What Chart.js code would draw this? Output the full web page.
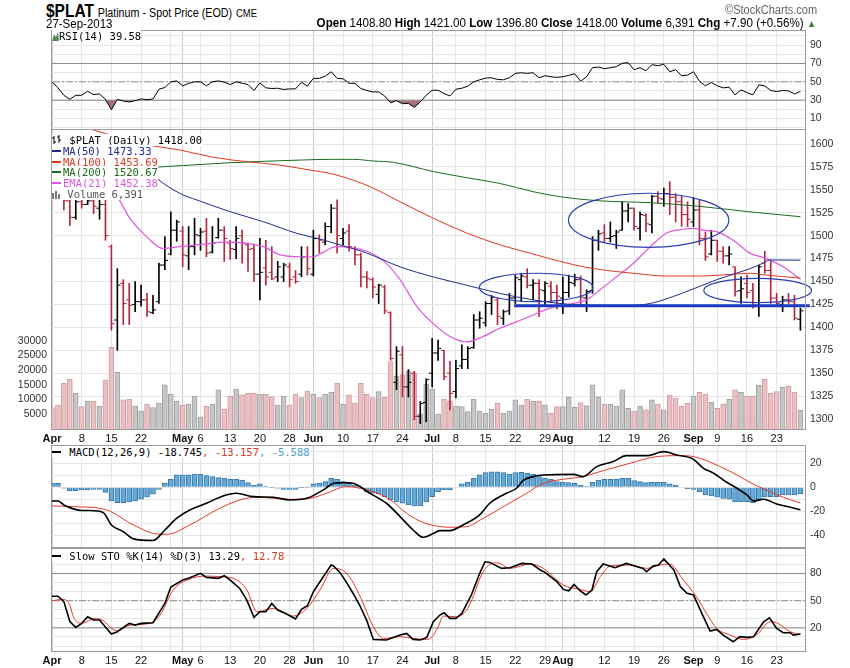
<!DOCTYPE html>
<html>
<head>
<meta charset="utf-8">
<script src="https://cdn.jsdelivr.net/npm/chart.js@4.4.0/dist/chart.umd.min.js"></script>
<style>
body { margin: 0; background: #fff; }
#wrap { position: relative; width: 850px; height: 668px; overflow: hidden; font-family: "Liberation Sans", Arial, sans-serif; color: #000; }
canvas { position: absolute; left: 0; }
.hdr { position: absolute; white-space: nowrap; }
.leg { position: absolute; font-family: "DejaVu Sans Mono", monospace; font-size: 10.5px; line-height: 10.8px; white-space: nowrap; }
.leg div span.t { background: #fff; }
.sw { display: inline-block; width: 9px; height: 2px; vertical-align: middle; margin-right: 2px; position: relative; top: -1px; }
</style>
</head>
<body>
<div id="wrap">
  <canvas id="rsi" width="850" height="101" style="top:29px"></canvas>
  <canvas id="price" width="850" height="317" style="top:129px"></canvas>
  <canvas id="macd" width="850" height="103" style="top:445px"></canvas>
  <canvas id="sto" width="850" height="120" style="top:548px"></canvas>

  <div class="hdr" style="left:46px;top:1px;transform:scaleX(0.86);transform-origin:0 0;">
    <b style="font-size:18px">$PLAT</b> <span style="font-size:12.5px">Platinum - Spot Price (EOD)</span> <span style="font-size:11px">CME</span>
  </div>
  <div class="hdr" style="left:46px;top:17px;font-size:12.5px;transform:scaleX(0.92);transform-origin:0 0;">27-Sep-2013</div>
  <div class="hdr" style="right:34px;top:16px;font-size:12.5px;transform:scaleX(0.93);transform-origin:100% 0;">
    <b>Open</b> 1408.80 <b>High</b> 1421.00 <b>Low</b> 1396.80 <b>Close</b> 1418.00 <b>Volume</b> 6,391 <b>Chg</b> +7.90 (+0.56%) <span style="color:#2a8a2a;font-size:10px">&#9650;</span>
  </div>
  <div class="hdr" style="right:33px;top:3px;font-size:12px;color:#666;transform:scaleX(0.92);transform-origin:100% 0;">&copy;StockCharts.com</div>

  <div class="leg" style="left:52px;top:31px;">
    <div><span class="t"><svg width="7" height="9" style="vertical-align:-1px"><polygon points="0,9 2,2 4,5 6,0 7,9" fill="#5a8a5a"/></svg>RSI(14) 39.58</span></div>
  </div>

  <div class="leg" style="left:52px;top:135px;">
    <div><span class="t"><svg width="11" height="10" style="vertical-align:-1px"><path d="M2 1V9M0 3H2M2 7H4M7 0V8M5 2H7M7 5H9" stroke="#000" fill="none"/></svg> $PLAT (Daily) 1418.00</span></div>
    <div style="color:#1f2a8a"><span class="t"><span class="sw" style="background:#1f2a8a"></span>MA(50) 1473.33</span></div>
    <div style="color:#dd3a22"><span class="t"><span class="sw" style="background:#dd3a22"></span>MA(100) 1453.69</span></div>
    <div style="color:#1b6b1b"><span class="t"><span class="sw" style="background:#1b6b1b"></span>MA(200) 1520.67</span></div>
    <div style="color:#e055e0"><span class="t"><span class="sw" style="background:#e055e0"></span>EMA(21) 1452.38</span></div>
    <div style="color:#555"><span class="t"><svg width="9" height="9" style="vertical-align:-1px"><path d="M0 3h2v6H0zM3 1h2v8H3zM6 4h2v5H6z" fill="#777"/></svg> Volume 6,391</span></div>
  </div>

  <div class="leg" style="left:52px;top:447px;">
    <div><span class="t"><span class="sw" style="background:#000"></span> MACD(12,26,9) -18.745<span style="color:#d83a24">, -13.157</span><span style="color:#4d9ad0">, -5.588</span></span></div>
  </div>
  <div class="leg" style="left:52px;top:551px;">
    <div><span class="t"><span class="sw" style="background:#000"></span> Slow STO %K(14) %D(3) 13.29<span style="color:#d83a24">, 12.78</span></span></div>
  </div>
</div>

<script>
// trading days Apr 1 - Sep 27 2013, index 0..126
const tickPos  = [0, 5, 10, 15, 20, 22, 25, 30, 35, 40, 44, 49, 54, 59, 64, 68, 73, 78, 83, 86, 88, 93, 98, 103, 108, 112, 117, 122];
const tickText = ['Apr', '8', '15', '22', '', 'May', '6', '13', '20', '28', 'Jun', '10', '17', '24', 'Jul', '8', '15', '22', '29', 'Aug', '', '12', '19', '26', 'Sep', '9', '16', '23'];
const monthPos = [0, 22, 44, 64, 86, 108];

const opens = [1578,1572,1565,1538,1520,1537,1534,1538,1530,1534, 1488,1408,1448,1430,1425,1428,1430,1416,1428,1468,
  1480,1506,1505,1478,1488,1500,1505,1482,1498,1506, 1492,1485,1500,1490,1486,1458,1465,1460,1455,1455,
  1466,1455,1458,1477,1458,1497,1493,1510,1530,1497, 1505,1486,1479,1455,1452,1436,1444,1416,1340,1370,
  1335,1350,1303,1318,1350,1372,1375,1350,1330,1358, 1365,1378,1408,1405,1426,1430,1410,1418,1432,1452,
  1455,1446,1448,1440,1445,1438,1432,1438,1448,1452, 1432,1440,1495,1503,1497,1500,1506,1527,1530,1508,
  1522,1512,1543,1540,1546,1542,1537,1523,1515,1528, 1497,1480,1495,1483,1478,1466,1440,1448,1440,1424,
  1470,1462,1432,1425,1430,1428,1408.8];
const highs = [1583,1576,1568,1545,1546,1545,1545,1548,1545,1542, 1490,1464,1452,1448,1450,1446,1437,1435,1470,1499,
  1526,1517,1510,1510,1519,1508,1519,1510,1519,1510, 1495,1510,1506,1492,1490,1497,1495,1488,1472,1470,
  1470,1462,1488,1488,1506,1501,1514,1534,1539,1508, 1512,1488,1481,1461,1454,1447,1446,1417,1379,1379,
  1354,1352,1319,1344,1388,1386,1375,1363,1364,1381, 1379,1414,1417,1428,1435,1432,1419,1437,1457,1459,
  1464,1452,1452,1450,1450,1446,1455,1457,1458,1456, 1441,1499,1506,1512,1515,1506,1537,1535,1530,1526,
  1524,1544,1548,1552,1559,1546,1543,1537,1541,1539, 1504,1506,1495,1488,1488,1466,1455,1457,1448,1468,
  1483,1472,1437,1434,1437,1435,1421];
const lows = [1566,1558,1528,1511,1518,1530,1534,1524,1518,1495, 1397,1375,1403,1403,1417,1423,1412,1415,1426,1463,
  1479,1494,1466,1463,1479,1484,1477,1481,1497,1472, 1474,1475,1470,1461,1450,1430,1446,1452,1450,1450,
  1444,1448,1455,1457,1456,1481,1490,1503,1481,1490, 1483,1468,1444,1443,1432,1426,1415,1364,1332,1324,
  1324,1299,1295,1297,1335,1364,1343,1310,1323,1355, 1355,1377,1399,1401,1414,1403,1403,1414,1426,1428,
  1443,1430,1412,1423,1428,1420,1415,1433,1445,1425, 1417,1437,1484,1493,1493,1486,1506,1515,1506,1495,
  1504,1503,1535,1532,1523,1515,1510,1510,1510,1490, 1473,1479,1472,1470,1468,1434,1426,1432,1421,1412,
  1459,1426,1423,1417,1426,1408,1396.8];
const closes = [1572,1566,1538,1520,1537,1534,1538,1532,1534,1500, 1404,1446,1426,1424,1428,1430,1417,1419,1468,1473,
  1506,1515,1479,1488,1501,1504,1481,1492,1506,1497, 1486,1497,1492,1485,1458,1460,1455,1453,1466,1468,
  1452,1450,1477,1464,1497,1495,1510,1530,1500,1503, 1488,1479,1455,1453,1444,1446,1418,1366,1374,1335,
  1340,1303,1317,1343,1372,1377,1346,1328,1355,1365, 1377,1408,1410,1426,1433,1412,1417,1432,1454,1456,
  1446,1448,1441,1448,1438,1434,1438,1449,1452,1433, 1439,1495,1502,1497,1499,1504,1527,1530,1510,1523,
  1513,1543,1541,1546,1542,1537,1523,1518,1528,1497, 1477,1495,1483,1478,1480,1439,1442,1438,1424,1466,
  1462,1432,1426,1430,1428,1410,1418];
const volumes = [7260,8160,15500,16900,12100,7600,9500,9500,7800,16700, 27800,19300,9900,10200,7800,6100,8500,7260,8850,15000,
  11900,9500,8160,8500,11200,4100,7800,8500,13300,6800, 11200,13600,11600,12100,12100,11900,11900,11000,8160,11200,
  8160,11800,10700,12900,11800,10700,11800,12600,15500,8400, 11600,8850,15500,11800,10700,12700,10800,22900,18000,18400,
  19700,18900,5100,15300,13600,5100,10200,9600,7800,7600, 5900,10200,6100,5300,6800,8700,5300,6100,9900,8160,
  10200,9500,9500,8160,5300,7600,7600,10800,7400,9000, 8000,15000,10900,8500,8500,7800,13300,7000,6100,7800,
  6500,9900,8500,6500,11500,10500,7800,8700,11200,12500, 11900,9100,7000,8500,10100,13300,12500,11200,11200,14900,
  16900,12100,12700,14200,14500,12500,6391];

// overlays, read at [dayIndex, value]
const ma50 = [[0,1606],[7,1597],[14.3,1582.5],[17.6,1562.6],[21.5,1546.2],[24.4,1538.9],[30,1526.2],[35.6,1515.2],[41.2,1502.6],
  [45.7,1495.3],[47.4,1492],[53,1481],[58.6,1466],[64.2,1455],[69.8,1446],[75.4,1437],[81,1430],[85.5,1426],[92.3,1424],[97,1424],[100.7,1426],
  [106,1437],[111.9,1452],[117.5,1464],[119.7,1470],[120.8,1473.5],[126,1473.3]];
const ma100 = [[0,1627],[5,1619],[9,1611.5],[13,1604.5],[17,1598],[21.5,1593.5],[27.2,1585.5],[32.8,1580.7],[38.4,1577],[44,1571],[46.8,1568],
  [53,1555],[58.6,1537],[64.2,1519],[69.8,1503],[75.4,1490],[81,1480],[85.5,1472],[89.5,1466],[92.3,1463],[97.9,1459],[103.5,1456],[109,1456],
  [114.7,1458],[117.5,1459],[120.3,1457],[126,1453.7]];
const ma200 = [[0,1570],[7,1571.5],[14.3,1573.5],[30,1579.6],[41.8,1582.5],[46.8,1583.3],[50.7,1583.3],[54.1,1581.5],[57.5,1580],[64.2,1570],
  [69.8,1563.3],[75.4,1557],[81,1548],[85.5,1542.6],[92.3,1538],[100.7,1536],[109,1532],[117.5,1526],[126,1520.7]];
const ema21 = [[0,1566],[3,1560],[6,1555],[9,1550],[10.3,1548],[13.1,1519],[15.9,1499],[18.7,1486],[21.5,1488],[26,1491],[28.8,1493],
  [32.8,1491.7],[35.6,1488],[38.4,1479],[41.8,1477],[44,1477],[45.1,1480],[47.9,1488],[50.2,1487],[53,1483],[55.9,1472],[58.6,1452],[61.4,1423],
  [64.2,1404],[67,1390],[69.8,1384],[72.6,1390],[75.4,1399],[78.2,1406],[81,1413.5],[83.8,1421],[87.2,1425.5],[90,1430],[92.3,1441],[95,1455],
  [97.9,1470],[100.7,1488],[103.5,1503],[106.3,1507],[108,1508],[110.2,1505.5],[111.9,1504.5],[114.7,1495],[117.5,1481],[120.3,1475],
  [123.1,1466],[126,1452.4]];

const rsiVals = [50,43.4,35.3,30.9,35.3,35.3,39.7,36,36.8,30.9, 19.5,30.9,29,28,29.4,31.3,30.5,31.3,41.9,43.8,
  50,51,45.6,48.2,50,50,45.6,50,51,49.6, 47,50,48.5,47,40.5,48.9,43.4,42.7,43,41.6,
  42.3,42.3,49.6,45.2,53.7,53.7,56.2,61,53.7,53.3, 48.5,48.2,42.7,40.5,39,39,34.6,27.2,29.4,26.1,
  26.5,22.1,28,35.3,40.8,40.8,37.2,34.6,41.9,43, 45.2,50,52.2,54,54.4,52.6,52.2,54.4,59.2,59.9,
  59.2,59.9,54.4,56.6,55.5,54.8,55.5,57,58.8,50.7, 55.5,65.4,66.1,64.3,65.4,66.5,70.2,70.9,63.2,65.4,
  62.1,68.7,67.6,69.1,61,63.2,56.6,57.3,61,50.7, 45.6,49.3,45.6,43.4,44.1,35.7,41.2,38.3,35.7,46.7,
  45.6,40.5,39.4,40.5,40.1,36.8,39.58];

const macdLine = [[0,-11.5],[1,-11.4],[2,-14.7],[3.6,-18],[5,-19.4],[6.4,-19.4],[8.6,-21],[10,-31.4],[12,-37],[13.7,-43],[17,-44.4],[19,-35.6],
  [21,-25.8],[23.2,-18.9],[26,-13.3],[28.8,-7.2],[31,-5],[33.9,-7.8],[37.3,-8.3],[40,-10.6],[42.9,-9.2],[45.7,-2.2],[47.4,3.3],[49,3.9],
  [50.7,3.3],[53.5,-5],[56.3,-13.3],[58.6,-24.4],[60.8,-35.6],[62.5,-41.7],[64.2,-38.5],[65.3,-36.1],[67,-36.1],[69.2,-31.4],[72,-23],
  [73.7,-13.3],[76.5,-5],[78.2,-0.8],[79.3,5.6],[81,8.9],[82.7,10.3],[87.8,10.8],[89.4,8.9],[91.7,17.2],[94.5,21.4],[96.7,26.4],[100.1,26.4],
  [103,29.7],[105.2,26.9],[108,23.3],[109.7,15.8],[111.4,11.7],[113,6.1],[115.3,-0.8],[117,-6.4],[118.1,-11.4],[119.8,-10],[122,-13.9],
  [124.3,-16.7],[126,-18.745]];
const macdSignal = [[0,-15.6],[3.6,-16.1],[9.2,-18.9],[13.7,-31.4],[17.6,-38.9],[19.3,-39.2],[23.2,-31.4],[27.7,-18.9],[31.6,-10.6],[34.5,-8.3],
  [40,-10],[43.4,-9.2],[46.2,-5],[49.6,0.6],[51.9,-0.8],[54.1,-3.6],[57,-10.6],[59.7,-21.7],[62.5,-29.4],[64.2,-31.8],[67,-33.3],[69.8,-32.8],
  [72.6,-25.8],[76.5,-14.7],[79.9,-5],[82.7,3.3],[86.1,6.7],[89.4,8.9],[92.8,13.9],[97.3,20],[101.8,25.6],[106.3,26.4],[108.5,25],[111.9,18.6],
  [115.3,10.3],[118.1,2.5],[120.9,-3.6],[123.1,-8.3],[126,-13.157]];
const macdHist = [3.3,3.3,-0.8,-2.8,-2.8,-2.2,-2.2,-1.7,-1.7,-4.2, -11.4,-12.8,-12.8,-12.2,-11.4,-10,-8.3,-5.8,-1.7,3.3,
  6.7,10.3,10.3,10.3,11.1,10.8,9.7,8.9,8.1,7.5, 6.7,6.7,6.1,3.9,1.7,2.8,0.6,-0.3,-0.8,-1.7,
  -1.7,-1.7,-0.2,0.2,2.8,3.3,4.7,7.5,6.7,4.7, 3.9,1.9,-0.8,-3.6,-5,-5.6,-7.8,-10.6,-12.2,-13.3,
  -14.7,-15.6,-15.6,-12.2,-7.8,-3.6,-2.2,-2.2,0,2.8, 4.2,7.5,10.3,12.2,12.8,12.8,12.2,11.1,12.2,12.5,
  11.7,10.8,8.9,7.5,6.7,4.7,4.2,3.9,3.3,1.9, 0.6,4.2,6.1,6.7,6.7,6.7,7.5,7.5,5.6,4.7,
  3.9,4.2,4.2,4.2,2.8,1.9,0,-1.1,-1.7,-3.6, -6.4,-7.2,-8.3,-9.2,-10,-11.9,-11.9,-11.9,-12.8,-10.6,
  -8.3,-7.8,-7.8,-6.4,-6.4,-6.4,-5.588];

const stoK = [[0,55],[1,55],[2,49],[3,27],[4,20.6],[5,25],[6,32.3],[7,28.7],[8,28.7],[10,13.2],[11,15.8],[13,25],[14,23.1],[15,25],[17,25.7],
  [19,47],[20,65],[22,72.8],[23,74.7],[25,80.2],[26,75.8],[28,74.7],[29,77.6],[30,72.8],[31.6,63.6],[32.8,50.7],[34,31.6],[35,37.9],[36,37.9],
  [37,47],[38,39.7],[39.5,35.3],[41,29.8],[42,40.4],[43,44.5],[44,59.9],[45,69.9],[47,89.4],[47.4,88.3],[48.5,81],[49.6,70],[50.7,58],
  [51.8,45],[53,28],[54.1,7.3],[56.3,6.6],[58.6,12.1],[59.7,13.9],[60.8,7.3],[62,6.6],[63.1,9.5],[64.2,26.8],[65.3,34.2],[66,36.7],[67,30.5],
  [68,30.5],[69,36],[70.6,56.3],[72,80.2],[72.9,93],[73.7,92.3],[75.7,85.7],[77.1,86.4],[79.1,91.2],[80.8,90.5],[82.2,83.9],[83,81.3],
  [85,71],[86.1,62.5],[87,61],[87.9,68],[88.9,61],[89.9,56.3],[90.9,61.8],[91.7,82],[92.8,90.5],[94.8,86.4],[96.7,91.2],[99.5,85.7],
  [100.1,82],[101.2,88.3],[102.1,89.4],[103,96],[104.7,83.9],[105.8,65.5],[106.9,58.1],[108,56.3],[109.4,36],[110.8,16.5],[111.9,18.3],
  [113,12.1],[114.7,4.7],[115.8,10.3],[116.9,9.5],[118.1,10.3],[119.8,26.8],[120.8,31.2],[122,19.5],[123.1,14.7],[124.3,14.7],
  [124.8,12.1],[126,13.29]];
const stoD = [[0,50],[2,51.5],[3,45],[3.6,32.3],[5,25],[7.2,30.5],[8.4,28.7],[10.9,16.9],[13.1,23.1],[16.5,25],[18.2,34.2],[20.4,61.8],
  [22.7,72.8],[26,77.2],[28.3,76.5],[30.5,74.7],[32.8,61.8],[34.5,37.9],[37.3,41.5],[40.6,33.1],[42.9,41.5],[45.1,61.8],[47.4,85.7],
  [49.6,80.2],[51.9,54.4],[54.1,21.3],[55.8,8.4],[58.6,10.3],[60.8,8.4],[63.1,7.3],[64,10.3],[65,21],[65.9,33.1],[68.1,32.3],[69.8,39.7],
  [71,56],[72,74],[73,86],[74.9,92],[77.1,85.7],[80.5,90.5],[82.7,85.7],[86.1,67.3],[88.9,62.5],[90.6,60],[92.3,76.5],[94,88.3],
  [97.3,89.4],[100.1,85.7],[102.4,89.4],[104,90.5],[106.3,72.8],[108.5,54.4],[110.2,36],[111.9,19.5],[114.2,12.1],[116.4,7.3],
  [118.6,12.1],[120.9,26.8],[122,25.7],[124.3,15.8],[126,12.78]];

// hand-drawn annotations on the price panel
const ellipses = [
  { i: 81.5, p: 1443.5, di: 9.55, dp: 15.5 },
  { i: 100.45, p: 1516.8, di: 13.5, dp: 29.5 },
  { i: 118.8, p: 1440.2, di: 9.06, dp: 13.3 }
];
const support = { from: 77.8, to: 127.6, price: 1423.6 };

const FONT = 'Liberation Sans';
const RED = '#b3283f';
const up = closes.map((c, i) => i === 0 ? c >= opens[0] : c >= closes[i - 1]);
const pts = a => a.map((v, i) => ({ x: i, y: v }));
const pairs = a => a.map(p => ({ x: p[0], y: p[1] }));
const hline = (v, dash) => ({
  type: 'line', data: [{ x: -2, y: v }, { x: 130, y: v }], borderColor: '#8a8a8a', borderWidth: 1,
  borderDash: dash ? [7, 2, 2, 2] : [], pointRadius: 0, order: 8
});

const frame = {
  id: 'frame',
  afterDraw(chart) {
    const a = chart.chartArea, ctx = chart.ctx;
    ctx.save();
    ctx.strokeStyle = '#9c9c9c';
    ctx.lineWidth = 1;
    ctx.strokeRect(Math.round(a.left) + 0.5, Math.round(a.top) + 0.5, Math.round(a.right - a.left) - 1, Math.round(a.bottom - a.top) - 1);
    ctx.restore();
  }
};

const marks = {
  id: 'marks',
  afterDatasetsDraw(chart) {
    const x = chart.scales.x, y = chart.scales.y, ctx = chart.ctx;
    ctx.save();
    ctx.strokeStyle = '#2b3fb5';
    ctx.lineWidth = 1.2;
    ellipses.forEach(e => {
      const cx = x.getPixelForValue(e.i), cy = y.getPixelForValue(e.p);
      const rx = x.getPixelForValue(e.i + e.di) - cx, ry = cy - y.getPixelForValue(e.p + e.dp);
      ctx.beginPath();
      ctx.ellipse(cx, cy, rx, ry, 0, 0, Math.PI * 2);
      ctx.stroke();
    });
    ctx.restore();
  }
};

function noPad(s) { s.paddingTop = 0; s.paddingBottom = 0; s.paddingLeft = 0; s.paddingRight = 0; }

function xAxis(showLabels) {
  return {
    type: 'linear', min: -0.17, max: 126.94, offset: false,
    afterBuildTicks: s => { s.ticks = tickPos.map(v => ({ value: v })); },
    afterFit: s => { s.height = showLabels ? 16 : 0; noPad(s); },
    grid: {
      offset: false, drawTicks: false,
      color: c => (c.tick && monthPos.includes(c.tick.value)) ? '#cdcdcd' : '#e4e4e4'
    },
    border: { display: false },
    ticks: {
      display: showLabels, autoSkip: false, maxRotation: 0, padding: 2, color: '#111',
      font: c => ({ family: FONT, size: 11, weight: (c.tick && monthPos.includes(c.tick.value)) ? 'bold' : 'normal' }),
      callback: v => tickText[tickPos.indexOf(v)]
    }
  };
}

function yAxis(min, max, ticks, show) {
  return {
    position: 'right', min: min, max: max,
    afterBuildTicks: s => { s.ticks = ticks.map(v => ({ value: v })); },
    afterFit: s => { s.width = 44; noPad(s); },
    grid: { color: '#e6e6e6', drawTicks: false },
    border: { display: false },
    ticks: {
      autoSkip: false, padding: 4, color: '#333', font: { family: FONT, size: 10.5 },
      callback: v => show.includes(v) ? String(v) : ''
    }
  };
}

const base = (padLeft, padTop) => ({
  responsive: false, animation: false, events: [],
  layout: { autoPadding: false, padding: { left: padLeft, right: 0, top: padTop, bottom: 0 } },
  plugins: { legend: { display: false }, tooltip: { enabled: false } }
});

const tens = (a, b) => { const r = []; for (let v = a; v <= b; v += 10) r.push(v); return r; };

// RSI panel
new Chart(document.getElementById('rsi'), {
  type: 'line',
  data: { datasets: [
    { data: pts(rsiVals), borderColor: '#000', borderWidth: 1, pointRadius: 0, order: 1,
      fill: { target: { value: 30 }, above: 'rgba(0,0,0,0)', below: '#a2717a' } },
    { data: pts(rsiVals), borderColor: 'rgba(0,0,0,0)', borderWidth: 0, pointRadius: 0, order: 2,
      fill: { target: { value: 70 }, above: '#8aab8a', below: 'rgba(0,0,0,0)' } },
    hline(70), hline(50, true), hline(30)
  ]},
  options: Object.assign(base(51, 1), {
    scales: { x: xAxis(false), y: yAxis(-2.56, 106.5, tens(0, 100), [10, 30, 50, 70, 90]) }
  }),
  plugins: [frame]
});

// price panel
const priceTicks = []; for (let v = 1300; v <= 1600; v += 25) priceTicks.push(v);
new Chart(document.getElementById('price'), {
  type: 'bar',
  data: { datasets: [
    { type: 'line', data: [{ x: support.from, y: support.price }, { x: support.to, y: support.price }],
      borderColor: '#1a3bbf', borderWidth: 3, pointRadius: 0, clip: false, order: 1 },
    { type: 'line', data: pairs(ma50), borderColor: '#1f2a8a', borderWidth: 1, pointRadius: 0, cubicInterpolationMode: 'monotone', order: 2 },
    { type: 'line', data: pairs(ma100), borderColor: '#dd3a22', borderWidth: 1, pointRadius: 0, cubicInterpolationMode: 'monotone', order: 2 },
    { type: 'line', data: pairs(ma200), borderColor: '#1b6b1b', borderWidth: 1, pointRadius: 0, cubicInterpolationMode: 'monotone', order: 2 },
    { type: 'line', data: pairs(ema21), borderColor: '#e055e0', borderWidth: 1.2, pointRadius: 0, cubicInterpolationMode: 'monotone', order: 2 },
    { type: 'line', data: opens.map((v, i) => ({ x: i - 0.26, y: v })), showLine: false, pointStyle: 'line',
      pointRadius: 1.6, pointBorderWidth: 1, pointBorderColor: up.map(u => u ? '#000' : RED), order: 3 },
    { type: 'line', data: closes.map((v, i) => ({ x: i + 0.26, y: v })), showLine: false, pointStyle: 'line',
      pointRadius: 1.6, pointBorderWidth: 1, pointBorderColor: up.map(u => u ? '#000' : RED), order: 3 },
    { type: 'bar', data: highs.map((h, i) => ({ x: i, y: [lows[i], h] })), barThickness: 1, grouped: false,
      backgroundColor: up.map(u => u ? '#000' : RED), order: 3 },
    { type: 'bar', yAxisID: 'vol', data: pts(volumes), barThickness: 5, grouped: false, borderWidth: 1,
      backgroundColor: up.map(u => u ? '#c6c6c6' : '#ecbfc3'), borderColor: up.map(u => u ? '#a2a2a2' : '#cf9ea3'), order: 9 }
  ]},
  options: Object.assign(base(0, 0), {
    scales: {
      x: xAxis(true),
      y: yAxis(1288, 1616.4, priceTicks, priceTicks),
      vol: {
        position: 'left', min: -340, max: 102040,
        afterBuildTicks: s => { s.ticks = [5000, 10000, 15000, 20000, 25000, 30000].map(v => ({ value: v })); },
        afterFit: s => { s.width = 51; noPad(s); },
        grid: { display: false, drawTicks: false },
        border: { display: false },
        ticks: { autoSkip: false, padding: 4, color: '#333', font: { family: FONT, size: 10.5 }, callback: v => String(v) }
      }
    }
  }),
  plugins: [frame, marks]
});

// MACD panel
new Chart(document.getElementById('macd'), {
  type: 'bar',
  data: { datasets: [
    { type: 'line', data: pairs(macdLine), borderColor: '#000', borderWidth: 1.6, pointRadius: 0, cubicInterpolationMode: 'monotone', order: 1 },
    { type: 'line', data: pairs(macdSignal), borderColor: '#e5392a', borderWidth: 1, pointRadius: 0, cubicInterpolationMode: 'monotone', order: 2 },
    { type: 'bar', data: pts(macdHist), barThickness: 5, grouped: false, backgroundColor: '#63a9da', borderColor: '#3b78a6', borderWidth: 1, order: 3 }
  ]},
  options: Object.assign(base(51, 0), {
    scales: { x: xAxis(false), y: yAxis(-50.6, 35.25, tens(-50, 30), [-40, -20, 0, 20]) }
  }),
  plugins: [frame]
});

// Slow stochastic panel
new Chart(document.getElementById('sto'), {
  type: 'line',
  data: { datasets: [
    { data: pairs(stoK), borderColor: '#000', borderWidth: 1.6, pointRadius: 0, order: 1 },
    { data: pairs(stoD), borderColor: '#e5392a', borderWidth: 1, pointRadius: 0, cubicInterpolationMode: 'monotone', order: 2 },
    hline(80), hline(50, true), hline(20)
  ]},
  options: Object.assign(base(51, 0), {
    scales: { x: xAxis(true), y: yAxis(-6.6, 108.2, tens(0, 100), [20, 50, 80]) }
  }),
  plugins: [frame]
});
</script>
</body>
</html>
